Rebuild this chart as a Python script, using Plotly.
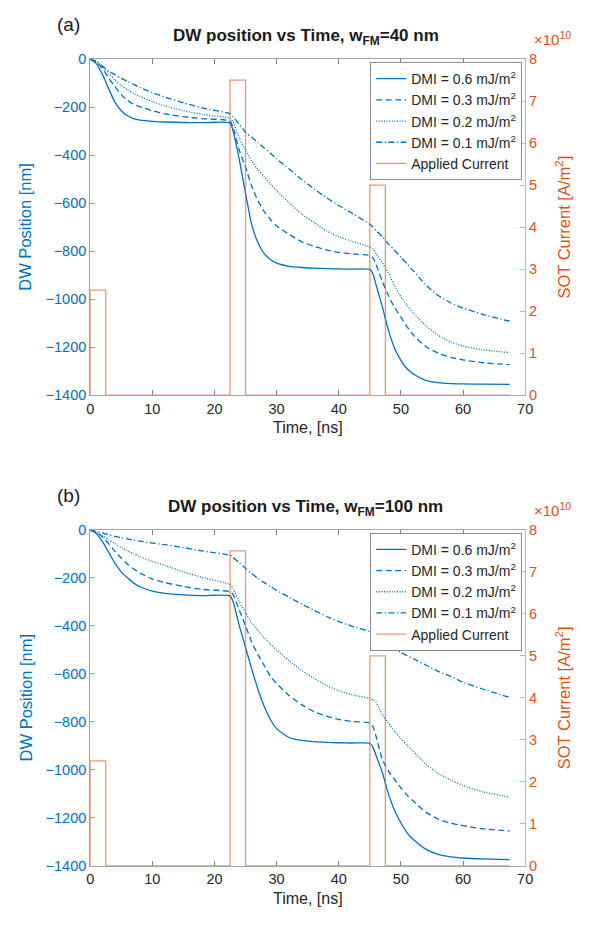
import plotly.graph_objects as go

# ---------------- data ----------------
t_ns = [0, 1, 2, 3, 4, 5, 6, 7, 8, 10, 12, 15, 18, 22.5,
        23, 24, 25, 26, 27, 28, 29, 30, 32, 34, 36, 38, 40, 42, 45,
        45.5, 46, 47, 48, 49, 50, 51, 52, 54, 56, 58, 60, 63, 67.5]

dmi_labels = ["DMI = 0.6 mJ/m<sup>2</sup>", "DMI = 0.3 mJ/m<sup>2</sup>",
              "DMI = 0.2 mJ/m<sup>2</sup>", "DMI = 0.1 mJ/m<sup>2</sup>"]

# (a) w_FM = 40 nm
a_dmi06 = [0, -20, -65, -125, -180, -215, -236, -248, -254, -259, -262, -264, -265, -266,
           -300, -420, -560, -690, -765, -810, -835, -850, -863, -868, -871, -873, -874, -875, -876,
           -895, -940, -1030, -1130, -1205, -1255, -1290, -1312, -1338, -1348, -1352, -1353, -1354, -1355]
a_dmi03 = [0, -12, -40, -80, -115, -148, -172, -188, -198, -215, -228, -240, -248, -258,
           -285, -380, -450, -530, -590, -635, -668, -695, -730, -760, -780, -795, -805, -811, -818,
           -828, -855, -925, -985, -1035, -1075, -1115, -1150, -1197, -1225, -1242, -1253, -1264, -1273]
a_dmi02 = [0, -10, -32, -60, -88, -110, -128, -143, -155, -177, -195, -215, -230, -247,
           -262, -330, -380, -425, -460, -490, -520, -548, -598, -645, -680, -715, -740, -758, -783,
           -790, -810, -848, -892, -945, -990, -1025, -1058, -1110, -1150, -1178, -1195, -1210, -1223]
a_dmi01 = [0, -10, -30, -50, -65, -80, -93, -105, -118, -140, -158, -182, -203, -228,
           -240, -272, -305, -326, -348, -370, -392, -415, -458, -500, -540, -577, -610, -640, -688,
           -700, -714, -740, -770, -797, -825, -853, -882, -940, -985, -1015, -1037, -1062, -1092]

# (b) w_FM = 100 nm
b_dmi06 = [0, -15, -50, -95, -140, -175, -200, -222, -237, -255, -265, -271, -274, -275,
           -300, -400, -490, -580, -665, -735, -790, -828, -865, -877, -882, -885, -887, -888, -889,
           -905, -940, -1010, -1100, -1170, -1220, -1262, -1290, -1330, -1352, -1362, -1367, -1371, -1374]
b_dmi03 = [0, -10, -30, -58, -90, -118, -143, -163, -180, -205, -220, -236, -248, -258,
           -270, -335, -400, -468, -520, -565, -610, -640, -690, -728, -757, -776, -790, -798, -805,
           -820, -860, -955, -1005, -1040, -1075, -1105, -1130, -1176, -1205, -1222, -1232, -1245, -1255]
b_dmi02 = [0, -12, -25, -42, -58, -73, -88, -100, -112, -132, -148, -175, -198, -228,
           -245, -300, -345, -388, -420, -450, -476, -500, -545, -585, -618, -648, -670, -686, -702,
           -708, -718, -770, -805, -840, -870, -897, -923, -975, -1015, -1042, -1065, -1090, -1114]
b_dmi01 = [0, -8, -14, -20, -27, -33, -38, -43, -47, -55, -62, -74, -88, -106,
           -115, -138, -160, -183, -202, -220, -236, -252, -281, -309, -335, -360, -382, -400, -425,
           -433, -442, -462, -482, -496, -510, -524, -537, -563, -590, -610, -635, -662, -698]

# applied SOT current pulses
pulse_start = [0, 22.5, 45]
pulse_end = [2.5, 25, 47.5]
pulse_amp = [2.5e10, 7.5e10, 5e10]
t_end = 67.5

x_ticks = [0, 10, 20, 30, 40, 50, 60, 70]
y_ticks = [0, -200, -400, -600, -800, -1000, -1200, -1400]
j_ticks = [0, 1e10, 2e10, 3e10, 4e10, 5e10, 6e10, 7e10, 8e10]
j_ticktext = ["0", "1", "2", "3", "4", "5", "6", "7", "8"]

# ---------------- styles ----------------
W, H = 589, 926
FONT = "Liberation Sans, Arial, Helvetica, sans-serif"
BLUE = "#0072BD"
ORANGE = "#D95319"
DARK = "#262626"
dashes = ["solid", "6px,3.5px", "1px,1.6px", "6px,2.5px,1.2px,2.5px"]

cur_t, cur_j = [], []
for s, e, a in zip(pulse_start, pulse_end, pulse_amp):
    cur_t += [s, s, e, e]
    cur_j += [0, a, a, 0]
cur_t.append(t_end)
cur_j.append(0)


def px(x):
    return x / W


def py(y):
    return 1 - y / H


fig = go.Figure()

panels = [
    dict(data=[a_dmi06, a_dmi03, a_dmi02, a_dmi01], x="x", y="y", y2="y2", legend="legend",
         top=52, bottom=394, label="(a)", title="<b>DW position vs Time, w<sub>FM</sub>=40 nm</b>"),
    dict(data=[b_dmi06, b_dmi03, b_dmi02, b_dmi01], x="x2", y="y3", y2="y4", legend="legend2",
         top=531, bottom=873, label="(b)", title="<b>DW position vs Time, w<sub>FM</sub>=100 nm</b>"),
]

for p in panels:
    for vals, lab, dsh in zip(p["data"], dmi_labels, dashes):
        fig.add_trace(go.Scatter(x=t_ns, y=vals, mode="lines", name=lab,
                                 line=dict(color=BLUE, width=1.3, dash=dsh, shape="spline", smoothing=0.6),
                                 xaxis=p["x"], yaxis=p["y"], legend=p["legend"]))
    fig.add_trace(go.Scatter(x=cur_t, y=cur_j, mode="lines", name="Applied Current",
                             line=dict(color="rgba(217,83,25,0.6)", width=1.3),
                             xaxis=p["x"], yaxis=p["y2"], legend=p["legend"]))

xdom = [px(88), px(532)]
common_x = dict(domain=xdom, range=[0, 70], tickvals=x_ticks, ticks="inside", ticklen=5,
                tickcolor="#7f7f7f", showline=True, linecolor="#a6a6a6", linewidth=1,
                mirror="ticks", showgrid=False, zeroline=False,
                tickfont=dict(family=FONT, size=14.5, color=DARK))
common_y = dict(range=[-1400, 0], tickvals=y_ticks, ticks="inside", ticklen=5,
                tickcolor="#6aaadc", showline=True, linecolor="#6aaadc", linewidth=1,
                showgrid=False, zeroline=False,
                tickfont=dict(family=FONT, size=14.5, color=BLUE))
common_y2 = dict(range=[0, 8e10], tickvals=j_ticks, ticktext=j_ticktext, side="right",
                 ticks="inside", ticklen=5, tickcolor="#eea98a", showline=True,
                 linecolor="#eea98a", linewidth=1, showgrid=False, zeroline=False,
                 tickfont=dict(family=FONT, size=14.5, color=ORANGE))

layout = dict(width=W, height=H, margin=dict(l=0, r=0, t=0, b=0),
              paper_bgcolor="white", plot_bgcolor="white", showlegend=True,
              font=dict(family=FONT, color=DARK))
annotations = []


def ann(text, x, y, size, color, **kw):
    d = dict(text=text, x=px(x), y=py(y), xref="paper", yref="paper", xanchor="center",
             yanchor="middle", showarrow=False, font=dict(family=FONT, size=size, color=color))
    d.update(kw)
    return d


for i, p in enumerate(panels):
    ydom = [py(p["bottom"]), py(p["top"])]
    xn = "xaxis" if i == 0 else "xaxis2"
    yn = "yaxis" if i == 0 else "yaxis3"
    y2n = "yaxis2" if i == 0 else "yaxis4"
    layout[xn] = dict(common_x, anchor=p["y"])
    layout[yn] = dict(common_y, domain=ydom, anchor=p["x"])
    layout[y2n] = dict(common_y2, domain=ydom, anchor=p["x"], overlaying=p["y"])
    layout[p["legend"]] = dict(x=px(529), xanchor="right", y=py(p["top"] + 3), yanchor="top",
                               bgcolor="white", bordercolor="#8c8c8c", borderwidth=1,
                               font=dict(family=FONT, size=14, color=DARK),
                               tracegroupgap=0, itemwidth=30)
    top, bot = p["top"], p["bottom"]
    mid = (top + bot) / 2
    annotations += [
        ann(p["label"], 66, top - 35, 19, "#1a1a1a"),
        ann(p["title"], 308, top - 22, 17, "#1a1a1a"),
        ann("×10<sup>10</sup>", 581, top - 9, 15, ORANGE, xanchor="right", yanchor="bottom"),
        ann("Time, [ns]", 310, bot + 33, 16, DARK),
        ann("DW Position [nm]", 22, mid, 16.5, BLUE, textangle=-90),
        ann("SOT Current [A/m<sup>2</sup>]", 571, mid, 16.5, ORANGE, textangle=-90),
    ]
layout["annotations"] = annotations
fig.update_layout(**layout)

fig.write_html("out.html")
